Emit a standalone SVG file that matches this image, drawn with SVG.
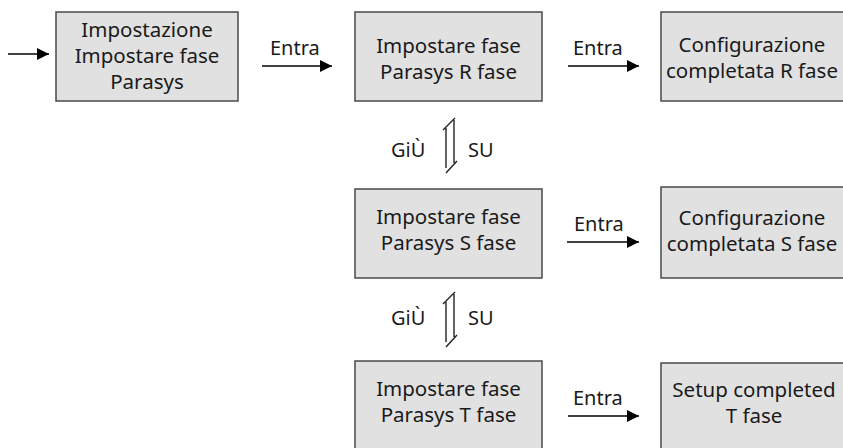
<svg xmlns="http://www.w3.org/2000/svg" width="843" height="448" viewBox="0 0 843 448">
  <defs>
    <marker id="head" viewBox="0 0 12 12" refX="12" refY="6" markerWidth="12" markerHeight="12" markerUnits="userSpaceOnUse" orient="auto">
      <path d="M0,0 L12,6 L0,12 Z" fill="#000"/>
    </marker>
    <style>
      .box { fill: #e1e1e1; stroke: #4a4a4a; stroke-width: 1.5; }
      .txt { font-family: "Noto Sans", "Open Sans", sans-serif; font-size: 20.5px; fill: #1a1a1a; text-anchor: middle; }
      .lbl { font-family: "Noto Sans", "Open Sans", sans-serif; font-size: 20px; fill: #1a1a1a; }
      .arrow { stroke: #000; stroke-width: 1.5; fill: none; marker-end: url(#head); }
      .harp { stroke: #222; stroke-width: 1.4; fill: none; }
    </style>
  </defs>

  <rect width="843" height="448" fill="#fff"/>

  <!-- nodes -->
  <g id="setup">
    <rect class="box" x="56" y="12" width="182" height="89"/>
    <text class="txt" x="147" y="37">Impostazione</text>
    <text class="txt" x="147" y="63">Impostare fase</text>
    <text class="txt" x="147" y="89">Parasys</text>
  </g>
  <g id="phase-r">
    <rect class="box" x="355" y="12" width="187" height="89"/>
    <text class="txt" x="448.5" y="53">Impostare fase</text>
    <text class="txt" x="448.5" y="79">Parasys R fase</text>
  </g>
  <g id="done-r">
    <rect class="box" x="661" y="12" width="190" height="89"/>
    <text class="txt" x="752" y="52">Configurazione</text>
    <text class="txt" x="752" y="78">completata R fase</text>
  </g>
  <g id="phase-s">
    <rect class="box" x="355" y="189" width="187" height="89"/>
    <text class="txt" x="448.5" y="224">Impostare fase</text>
    <text class="txt" x="448.5" y="250">Parasys S fase</text>
  </g>
  <g id="done-s">
    <rect class="box" x="661" y="187" width="190" height="91"/>
    <text class="txt" x="752" y="225">Configurazione</text>
    <text class="txt" x="752" y="251">completata S fase</text>
  </g>
  <g id="phase-t">
    <rect class="box" x="355" y="361" width="187" height="95"/>
    <text class="txt" x="448.5" y="396">Impostare fase</text>
    <text class="txt" x="448.5" y="422">Parasys T fase</text>
  </g>
  <g id="done-t">
    <rect class="box" x="661" y="363" width="190" height="95"/>
    <text class="txt" x="754" y="397">Setup completed</text>
    <text class="txt" x="754" y="423">T fase</text>
  </g>

  <!-- connectors -->
  <g id="connectors">
    <line class="arrow" x1="8" y1="54" x2="49" y2="54"/>

    <line class="arrow" x1="262" y1="66" x2="332" y2="66"/>
    <text class="lbl" x="270" y="55">Entra</text>

    <line class="arrow" x1="568" y1="66" x2="639" y2="66"/>
    <text class="lbl" x="573" y="55">Entra</text>

    <line class="arrow" x1="567" y1="242" x2="639" y2="242"/>
    <text class="lbl" x="574" y="231">Entra</text>

    <line class="arrow" x1="568" y1="416" x2="639" y2="416"/>
    <text class="lbl" x="573" y="405">Entra</text>

    <!-- up / down harpoons -->
    <path class="harp" d="M446,168 V128 M443,130 L455,118"/>
    <path class="harp" d="M454,120 V163 M457,161 L446,173"/>
    <text class="lbl" x="391" y="157">GiÙ</text>
    <text class="lbl" x="468" y="157">SU</text>

    <path class="harp" d="M446,342 V302 M443,304 L455,292"/>
    <path class="harp" d="M454,294 V337 M457,335 L446,347"/>
    <text class="lbl" x="391" y="325">GiÙ</text>
    <text class="lbl" x="468" y="325">SU</text>
  </g>
</svg>
